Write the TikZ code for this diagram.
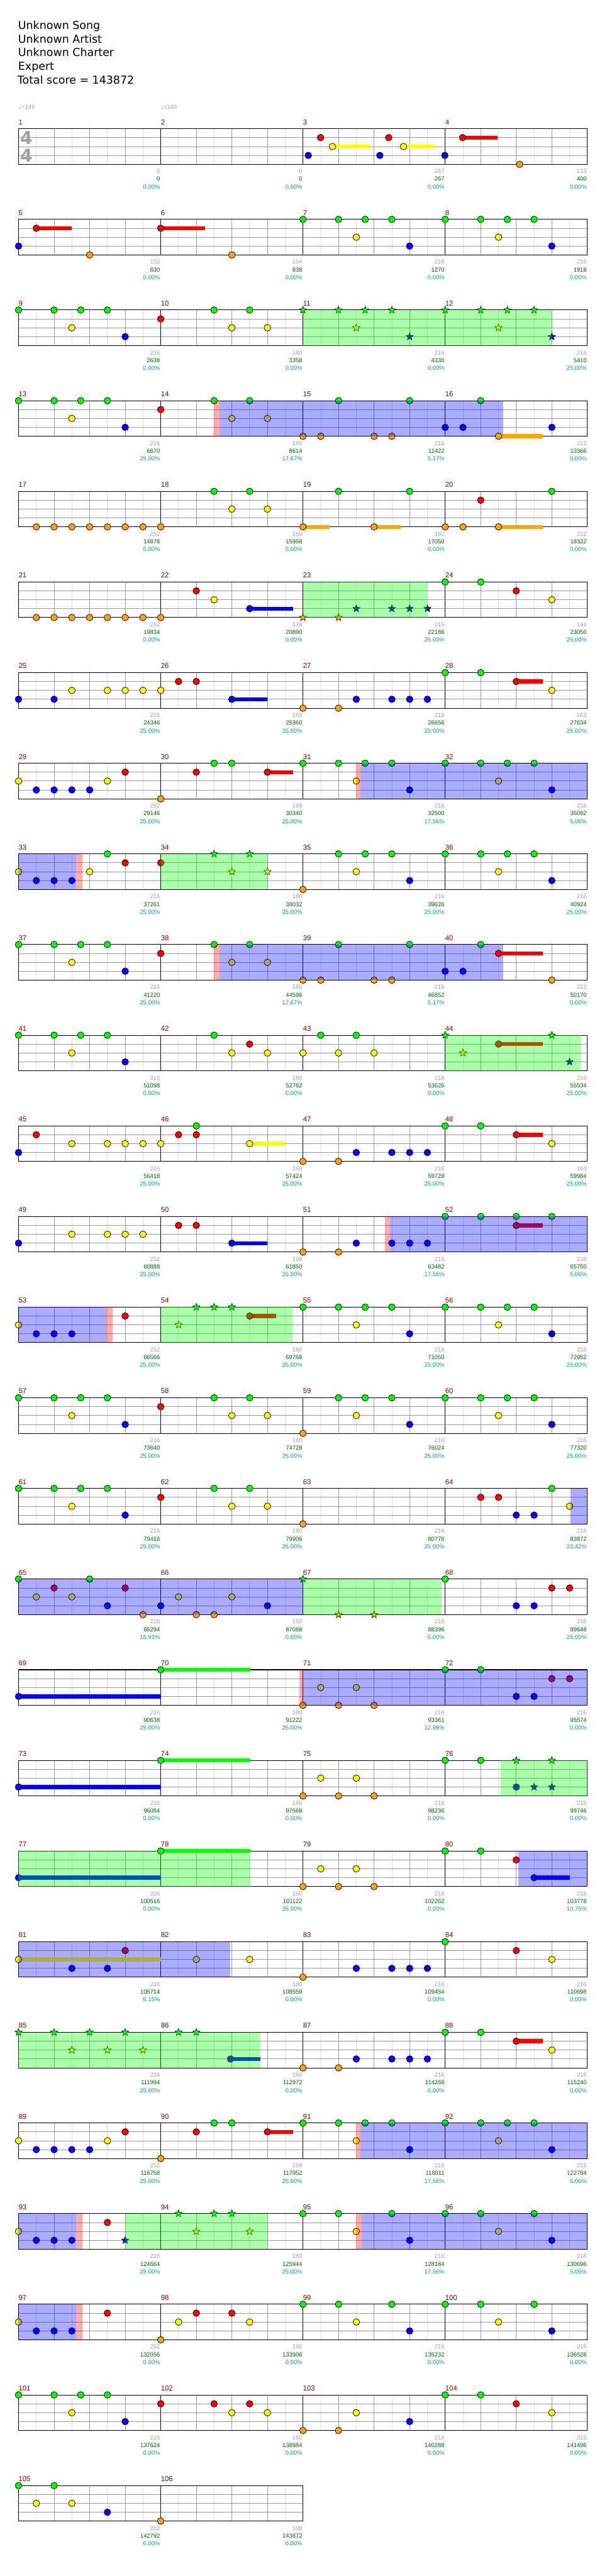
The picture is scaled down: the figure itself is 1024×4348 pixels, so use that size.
\documentclass[tikz,border=0pt]{standalone}
\usepackage{fontspec}
\setmainfont{DejaVu Sans}
\newfontfamily\lib{Liberation Sans}
\usetikzlibrary{shapes.geometric}
\definecolor{lane0}{RGB}{0,255,0}
\definecolor{lane1}{RGB}{255,0,0}
\definecolor{lane2}{RGB}{255,255,0}
\definecolor{lane3}{RGB}{0,0,255}
\definecolor{lane4}{RGB}{255,165,0}
\definecolor{mred}{RGB}{139,0,0}
\definecolor{ngray}{RGB}{160,160,160}
\definecolor{ngreen}{RGB}{0,100,0}
\definecolor{nteal}{RGB}{0,160,160}
\definecolor{gridd}{RGB}{153,153,153}
\definecolor{gridl}{RGB}{222,222,222}
\tikzset{
  mnum/.style={anchor=base west,inner sep=0pt,text=mred,font=\lib\fontsize{12}{12}\selectfont},
  numa/.style={anchor=base east,inner sep=0pt,text=ngray,font=\lib\fontsize{10}{10}\selectfont},
  numb/.style={anchor=base east,inner sep=0pt,text=ngreen,font=\lib\fontsize{10}{10}\selectfont},
  numc/.style={anchor=base east,inner sep=0pt,text=nteal,font=\lib\fontsize{10}{10}\selectfont},
  notestyle/.style={draw=black,line width=0.8pt},
  starnote/.style={star,star points=5,star point ratio=2.3,minimum size=13,inner sep=0pt,draw=black,line width=0.6pt},
  title/.style={anchor=base west,inner sep=0pt,font=\fontsize{18.5}{23}\selectfont},
  tempo/.style={anchor=base west,inner sep=0pt,text=ngray,font=\lib\fontsize{10}{10}\selectfont},
  tsig/.style={inner sep=0pt,text=ngray,font=\bfseries\fontsize{30}{30}\selectfont}
}
\newcommand\Staff[2]{%
  \pgfmathtruncatemacro\nh{8*#1-1}%
  \foreach \k in {1,...,\nh}{\draw[gridl,line width=0.9pt] ({31.3+30*\k},\T) -- ++(0,60);}%
  \pgfmathtruncatemacro\nbt{4*#1-1}%
  \foreach \k in {1,...,\nbt}{\draw[gridd,line width=0.9pt] ({31.3+60*\k},\T) -- ++(0,60);}%
  \foreach \j in {1,2,3}{\draw[gridd,line width=0.9pt] (31.3,\T+15*\j) -- ({31.3+240*#1},\T+15*\j);}%
  \pgfmathtruncatemacro\nm{#1-1}%
  \foreach \k in {1,...,\nm}{\draw[black,line width=0.9pt] ({31.3+240*\k},\T) -- ++(0,60);}%
  \draw[black,line width=1.1pt] (31.3,\T) rectangle ({31.3+240*#1},\T+60);%
  \foreach \k in {0,...,\nm}{\pgfmathtruncatemacro\mn{#2+\k}\node[mnum] at ({31.3+240*\k},\T-7) {\mn};}%
}
\newcommand\Nt[2]{\foreach \xx in {#2}{\path[notestyle,fill=lane#1] (\xx,\T+15*#1) circle (5.6);}}
\newcommand\Su[3]{\fill[lane#1] (#2,\T+15*#1-3.4) rectangle (#3,\T+15*#1+3.4);\Nt{#1}{#2}}
\newcommand\St[2]{\foreach \xx in {#2}{\node[starnote,fill=lane#1] at (\xx,\T+15*#1) {};}}
\newcommand\SP[2]{\fill[lane0,opacity=0.33] (#1,\T) rectangle (#2,\T+60);}
\newcommand\AC[2]{\fill[lane3,opacity=0.33] (#1,\T) rectangle (#2,\T+60);}
\newcommand\PK[2]{\fill[lane1,opacity=0.33] (#1,\T) rectangle (#2,\T+60);}
\newcommand\Nums[4]{%
  \node[numa] at ({31.3+240*(#1+1)-1},\T+75.4) {#2};%
  \node[numb] at ({31.3+240*(#1+1)-1},\T+88.4) {#3};%
  \node[numc] at ({31.3+240*(#1+1)-1},\T+101.4) {#4};}
\newcommand\Row[2]{\pgfmathsetmacro\T{217.3+153*(#1-1)}\pgfmathtruncatemacro\fm{4*#1-3}\Staff{#2}{\fm}}
\begin{document}
\begin{tikzpicture}[x=1pt,y=-1pt]
\useasboundingbox (0,0) rectangle (1024,4348);
\fill[white] (0,0) rectangle (1024,4348);
\node[title] (t1) at (30.5,49.3) {Unknown Song};
\node[title] (t2) at (30.5,72.3) {Unknown Artist};
\node[title] (t3) at (30.5,95.3) {Unknown Charter};
\node[title] (t4) at (30.5,118.3) {Expert};
\node[title] (t5) at (29.5,141.3) {Total score = 143872};
% ---------- row 1
\Row{1}{4}
\node[tempo] (tp1) at (31.3,184.3) {{\fontspec{DejaVu Sans}♩}=149};
\node[tempo] (tp2) at (271.3,184.3) {{\fontspec{DejaVu Sans}♩}=149};
\node[tsig] (ts1) at (44.5,\T+15) {4};
\node[tsig] (ts2) at (44.5,\T+45) {4};
\Su{2}{561}{625.7}\Su{2}{681}{735}\Su{1}{780.7}{839.7}
\Nt{3}{520.3,641,750.7}\Nt{1}{541,656}\Nt{4}{877}
\Nums{0}{0}{0}{0.00\%}\Nums{1}{0}{0}{0.00\%}\Nums{2}{267}{267}{0.00\%}\Nums{3}{133}{400}{0.00\%}
% ---------- row 2
\Row{2}{4}
\Su{1}{61.3}{120.7}\Su{1}{271.3}{345.7}
\Nt{3}{31.3,691.3,931.3}\Nt{4}{151.3,391.3}
\Nt{0}{511.3,571.3,616.3,661.3,751.3,811.3,856.3,901.3}\Nt{2}{601.3,841.3}
\Nums{0}{133}{630}{0.00\%}\Nums{1}{104}{838}{0.00\%}\Nums{2}{216}{1270}{0.00\%}\Nums{3}{216}{1918}{0.00\%}
% ---------- row 3
\Row{3}{4}
\Nt{0}{31.3,91.3,136.3,181.3,361.3,421.3}\Nt{2}{121.3,391.3,451.3}\Nt{3}{211.3}\Nt{1}{271.3}
\St{0}{511.3,571.3,616.3,661.3,751.3,811.3,856.3,901.3}\St{2}{601.3,841.3}\St{3}{691.3,931.3}
\SP{511.3}{931.3}
\Nums{0}{216}{2638}{0.00\%}\Nums{1}{180}{3358}{0.00\%}\Nums{2}{216}{4330}{0.00\%}\Nums{3}{216}{5410}{25.00\%}
% ---------- row 4
\Row{4}{4}
\Nt{0}{31.3,91.3,136.3,181.3,361.3,421.3,571.3,691.3,811.3}\Nt{2}{121.3,391.3,451.3}
\Nt{3}{211.3,751.3,781.3,931.3}\Nt{1}{271.3}\Nt{4}{511.3,541.3,631.3,661.3}
\PK{361.3}{370.3}\AC{370.3}{849.6}
\Su{4}{841.3}{915.6}
\Nums{0}{216}{6670}{25.00\%}\Nums{1}{180}{8614}{17.67\%}\Nums{2}{216}{11422}{5.17\%}\Nums{3}{212}{13366}{0.00\%}
% ---------- row 5
\Row{5}{4}
\Nt{4}{61.3,91.3,121.3,151.3,181.3,211.3,241.3,271.3,751.3,781.3}
\Nt{0}{361.3,421.3,571.3,691.3,931.3}\Nt{2}{391.3,451.3}\Nt{1}{811.3}
\Su{4}{511.3}{555.8}\Su{4}{631.3}{675.9}\Su{4}{841.3}{915.6}
\Nums{0}{252}{14878}{0.00\%}\Nums{1}{180}{15958}{0.00\%}\Nums{2}{182}{17050}{0.00\%}\Nums{3}{212}{18322}{0.00\%}
% ---------- row 6
\Row{6}{4}
\Nt{4}{61.3,91.3,121.3,151.3,181.3,211.3,241.3,271.3}
\Nt{1}{331.3,871.3}\Nt{2}{361.3,931.3}\Su{3}{421.3}{495}
\St{4}{511.3,571.3}\St{3}{601.3,661.3,691.3,721.3}
\SP{511.3}{721.3}
\Nt{0}{751.3,811.3}
\Nums{0}{252}{19834}{0.00\%}\Nums{1}{176}{20890}{0.00\%}\Nums{2}{216}{22186}{25.00\%}\Nums{3}{144}{23050}{25.00\%}
% ---------- row 7
\Row{7}{4}
\Nt{3}{31.3,91.3,601.3,661.3,691.3,721.3}\Nt{2}{121.3,181.3,211.3,241.3,271.3,931.3}
\Nt{1}{301.3,331.3}\Su{3}{391.3}{451.3}\Nt{4}{511.3,571.3}\Nt{0}{751.3,811.3}\Su{1}{871.3}{915.6}
\Nums{0}{216}{24346}{25.00\%}\Nums{1}{169}{25360}{25.00\%}\Nums{2}{216}{26656}{25.00\%}\Nums{3}{163}{27634}{25.00\%}
% ---------- row 8
\Row{8}{4}
\Nt{2}{31.3,181.3,601.3,841.3}\Nt{3}{61.3,91.3,121.3,151.3,691.3,931.3}\Nt{1}{211.3,331.3}\Nt{4}{271.3}
\Nt{0}{361.3,391.3,511.3,571.3,616.3,661.3,751.3,811.3,856.3,901.3}\Su{1}{451.3}{495}
\PK{601.3}{608}\AC{608}{991.3}
\Nums{0}{252}{29146}{25.00\%}\Nums{1}{199}{30340}{25.00\%}\Nums{2}{216}{32500}{17.56\%}\Nums{3}{216}{35092}{5.06\%}
% ---------- row 9 (approximate)
\Row{9}{4}
\Nt{2}{31.3,151.3}\Nt{3}{61.3,91.3,121.3}\Nt{1}{211.3,271.3}\Nt{0}{181.3}
\St{0}{361.3,421.3}\St{2}{391.3,451.3}
\Nt{4}{511.3}\Nt{0}{571.3,616.3,661.3,751.3,811.3,856.3,901.3}\Nt{2}{601.3,841.3}\Nt{3}{691.3,931.3}
\AC{31.3}{128}\PK{128}{139}\SP{271.3}{452}
\Nums{0}{216}{37261}{25.00\%}\Nums{1}{180}{38032}{25.00\%}\Nums{2}{216}{39626}{25.00\%}\Nums{3}{216}{40924}{25.00\%}
% ---------- row 10
\Row{10}{4}
\Nt{0}{31.3,91.3,136.3,181.3,361.3,421.3,571.3,691.3,811.3}\Nt{2}{121.3,391.3,451.3}
\Nt{3}{211.3,751.3,781.3}\Nt{1}{271.3}\Nt{4}{511.3,541.3,631.3,661.3,931.3}
\PK{361.3}{370.3}\AC{370.3}{849.6}
\Su{1}{841.3}{915.6}
\Nums{0}{216}{41220}{25.00\%}\Nums{1}{180}{44596}{17.67\%}\Nums{2}{216}{46852}{5.17\%}\Nums{3}{212}{50170}{0.00\%}
% ---------- row 11
\Row{11}{4}
\Nt{0}{31.3,91.3,136.3,181.3,361.3}\Nt{2}{121.3,391.3,451.3,511.3,571.3,631.3}\Nt{3}{211.3}\Nt{1}{421.3}
\Nt{0}{541.3,601.3}
\St{0}{751.3,931.3}\St{2}{781.3}\St{3}{961.3}\Su{1}{841.3}{915.6}
\SP{751.3}{980}
\Nums{0}{216}{51098}{0.00\%}\Nums{1}{180}{52762}{0.00\%}\Nums{2}{216}{53626}{0.00\%}\Nums{3}{216}{55534}{25.00\%}
% ---------- row 12
\Row{12}{4}
\Nt{1}{61.3,301.3,331.3}\Nt{2}{121.3,181.3,211.3,241.3,271.3,931.3}\Nt{3}{31.3,601.3,661.3,691.3,721.3}
\Nt{0}{331.3}\Su{2}{421.3}{481.3}\Nt{4}{511.3,571.3}\Nt{0}{751.3,811.3}\Su{1}{871.3}{915.6}
\Nums{0}{216}{56418}{25.00\%}\Nums{1}{169}{57424}{25.00\%}\Nums{2}{216}{59728}{25.00\%}\Nums{3}{163}{59984}{25.00\%}
% ---------- row 13
\Row{13}{4}
\Nt{3}{31.3,601.3,661.3,691.3,721.3}\Nt{2}{121.3,181.3,211.3,241.3}\Nt{1}{301.3,331.3}
\Su{3}{391.3}{451.3}\Nt{4}{511.3,571.3}\Nt{0}{751.3,811.3,871.3,931.3}\Su{1}{871.3}{915.6}
\PK{650}{658}\AC{658}{991.3}
\Nums{0}{252}{60888}{25.00\%}\Nums{1}{199}{61850}{25.00\%}\Nums{2}{216}{63482}{17.56\%}\Nums{3}{216}{65750}{5.06\%}
% ---------- row 14
\Row{14}{4}
\Nt{2}{31.3}\Nt{3}{61.3,91.3,121.3}\Nt{1}{211.3}
\St{0}{331.3,361.3,391.3}\St{2}{301.3}\Su{1}{421.3}{466}
\Nt{0}{511.3,571.3,616.3,661.3,751.3,811.3,856.3,901.3}\Nt{2}{601.3,841.3}\Nt{3}{691.3,931.3}
\AC{31.3}{180}\PK{180}{190}\SP{271.3}{494}
\Nums{0}{252}{66566}{25.00\%}\Nums{1}{180}{69768}{25.00\%}\Nums{2}{216}{71050}{25.00\%}\Nums{3}{216}{72952}{25.00\%}
% ---------- row 15
\Row{15}{4}
\Nt{0}{31.3,91.3,136.3,181.3,361.3,421.3,571.3,616.3,661.3,751.3,811.3,856.3,901.3}
\Nt{2}{121.3,391.3,451.3,601.3,841.3}\Nt{3}{211.3,691.3,931.3}\Nt{1}{271.3}\Nt{4}{511.3}
\Nums{0}{216}{73640}{25.00\%}\Nums{1}{180}{74728}{25.00\%}\Nums{2}{216}{76024}{25.00\%}\Nums{3}{216}{77320}{25.00\%}
% ---------- row 16
\Row{16}{4}
\Nt{0}{31.3,91.3,136.3,181.3,361.3,421.3,931.3}\Nt{2}{121.3,391.3,451.3,961.3}\Nt{3}{211.3,871.3,901.3}
\Nt{1}{271.3,811.3,841.3}\Nt{4}{511.3}
\AC{963}{991.3}
\Nums{0}{216}{79416}{25.00\%}\Nums{1}{180}{79906}{25.00\%}\Nums{2}{216}{80776}{25.00\%}\Nums{3}{216}{83872}{23.42\%}
% ---------- row 17
\Row{17}{4}
\Nt{0}{31.3,151.3}\Nt{1}{91.3,211.3}\Nt{2}{61.3,121.3,301.3,391.3}\Nt{3}{181.3,271.3,451.3}\Nt{4}{241.3,331.3,361.3}
\St{0}{511.3}\St{4}{571.3,631.3}
\Nt{0}{751.3}\Nt{1}{931.3,961.3}\Nt{3}{871.3,901.3}
\AC{31.3}{511.3}\SP{511.3}{745}
\Nums{0}{216}{85294}{16.91\%}\Nums{1}{180}{87088}{0.00\%}\Nums{2}{216}{88396}{0.00\%}\Nums{3}{216}{89648}{25.00\%}
% ---------- row 18
\Row{18}{4}
\Su{3}{31.3}{271.3}\Su{0}{271.3}{422}
\Nt{4}{511.3,571.3,631.3}\Nt{2}{541.3,601.3}\Nt{0}{751.3,811.3}\Nt{1}{931.3,961.3}\Nt{3}{871.3,901.3}
\PK{505}{511.3}\AC{511.3}{991.3}
\Nums{0}{216}{90638}{25.00\%}\Nums{1}{180}{91222}{25.00\%}\Nums{2}{216}{93361}{12.98\%}\Nums{3}{216}{95574}{0.00\%}
% ---------- row 19
\Row{19}{4}
\Su{3}{31.3}{271.3}\Su{0}{271.3}{422}
\Nt{4}{511.3,571.3,631.3}\Nt{2}{541.3,601.3}\Nt{0}{751.3,811.3}\Nt{3}{871.3}
\St{0}{871.3,931.3}\St{3}{901.3,931.3}
\SP{845}{991.3}
\Nums{0}{216}{96084}{0.00\%}\Nums{1}{180}{97568}{0.00\%}\Nums{2}{216}{98236}{0.00\%}\Nums{3}{216}{99746}{0.00\%}
% ---------- row 20
\Row{20}{4}
\Su{3}{31.3}{271.3}\Su{0}{271.3}{422}
\Nt{4}{511.3,571.3,631.3}\Nt{2}{541.3,601.3}\Nt{0}{751.3,811.3}\Nt{1}{871.3}\Su{3}{901.3}{961.3}
\SP{31.3}{422}\AC{875}{991.3}
\Nums{0}{216}{100516}{0.00\%}\Nums{1}{180}{101122}{25.00\%}\Nums{2}{216}{102262}{0.00\%}\Nums{3}{216}{103778}{10.75\%}
% ---------- row 21
\Row{21}{4}
\Su{2}{31.3}{271.3}\Nt{3}{121.3,181.3}\Nt{1}{211.3}\Nt{2}{331.3,421.3}
\Nt{4}{511.3}\Nt{3}{601.3,661.3,691.3,721.3}\Nt{0}{751.3}\Nt{1}{871.3}\Nt{2}{931.3}
\AC{31.3}{389}
\Nums{0}{216}{106714}{6.15\%}\Nums{1}{180}{108559}{0.00\%}\Nums{2}{216}{109454}{0.00\%}\Nums{3}{216}{110698}{0.00\%}
% ---------- row 22
\Row{22}{4}
\St{0}{31.3,91.3,151.3,211.3}\St{2}{121.3,181.3,241.3}\St{0}{301.3,331.3}\Su{3}{389}{439}
\Nt{4}{511.3,571.3}\Nt{3}{601.3,661.3,691.3,721.3}\Nt{0}{751.3,811.3}\Su{1}{871.3}{915.6}\Nt{2}{931.3}
\SP{31.3}{439}
\Nums{0}{216}{111994}{25.00\%}\Nums{1}{180}{112972}{0.00\%}\Nums{2}{216}{114268}{0.00\%}\Nums{3}{216}{115240}{0.00\%}
% ---------- row 23
\Row{23}{4}
\Nt{2}{31.3,181.3,601.3,841.3}\Nt{3}{61.3,91.3,121.3,151.3,691.3,931.3}\Nt{1}{211.3,331.3}\Nt{4}{271.3}
\Nt{0}{361.3,391.3,511.3,571.3,616.3,661.3,751.3,811.3,856.3,901.3}\Su{1}{451.3}{495}
\PK{601.3}{608}\AC{608}{991.3}
\Nums{0}{252}{116758}{25.00\%}\Nums{1}{199}{117952}{25.00\%}\Nums{2}{216}{118011}{17.56\%}\Nums{3}{216}{122784}{5.06\%}
% ---------- row 24
\Row{24}{4}
\Nt{2}{31.3}\Nt{3}{61.3,91.3,121.3}\Nt{1}{181.3}
\St{3}{211.3}\St{0}{301.3,361.3,391.3}\St{2}{331.3,421.3}
\Nt{0}{511.3,571.3,661.3,751.3,811.3,901.3}\Nt{2}{601.3,841.3}\Nt{3}{691.3,931.3}
\AC{31.3}{128}\PK{128}{139}\SP{211.3}{452}\PK{601.3}{610}\AC{610}{991.3}
\Nums{0}{216}{124664}{25.00\%}\Nums{1}{180}{125944}{25.00\%}\Nums{2}{216}{128184}{17.56\%}\Nums{3}{216}{130696}{5.06\%}
% ---------- row 25
\Row{25}{4}
\Nt{2}{31.3}\Nt{3}{61.3,91.3,121.3}\Nt{1}{181.3,331.3,391.3}\Nt{4}{271.3}\Nt{2}{301.3,421.3}
\Nt{0}{511.3,571.3,661.3,751.3,811.3,901.3}\Nt{2}{601.3,841.3}\Nt{3}{691.3,931.3}
\AC{31.3}{128}\PK{128}{139}
\Nums{0}{252}{132056}{0.00\%}\Nums{1}{180}{133906}{0.00\%}\Nums{2}{216}{135232}{0.00\%}\Nums{3}{216}{136528}{0.00\%}
% ---------- row 26
\Row{26}{4}
\Nt{0}{31.3,91.3,136.3,181.3,751.3,811.3}\Nt{2}{121.3,391.3,451.3,601.3,931.3}\Nt{3}{211.3,691.3}\Nt{1}{271.3,361.3,421.3,871.3}\Nt{4}{511.3,571.3}
\Nums{0}{216}{137624}{0.00\%}\Nums{1}{180}{138984}{0.00\%}\Nums{2}{216}{140288}{0.00\%}\Nums{3}{216}{141496}{0.00\%}
% ---------- row 27
\Row{27}{2}
\Nt{0}{31.3,91.3}\Nt{2}{61.3,121.3}\Nt{3}{181.3}\Nt{4}{271.3}
\Nums{0}{252}{142792}{0.00\%}\Nums{1}{108}{143872}{0.00\%}
\end{tikzpicture}
\end{document}
